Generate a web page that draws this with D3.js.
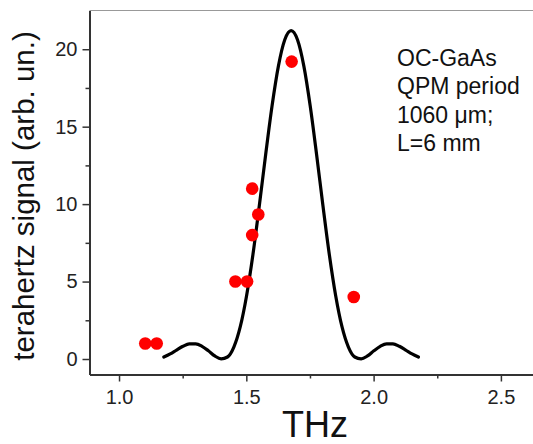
<!DOCTYPE html>
<html>
<head>
<meta charset="utf-8">
<script src="https://cdn.jsdelivr.net/npm/d3@7"></script>
<style>
  body { margin: 0; background: #fff; }
  #chart svg { display: block; font-family: "Liberation Sans", Arial, sans-serif; }
</style>
</head>
<body>
<div id="chart"></div>
<script>
// measured points (THz, arb. un.)
const pointFreq = [1.103, 1.148, 1.457, 1.503, 1.523, 1.523, 1.547, 1.678, 1.922];
const pointSignal = [1.0, 1.0, 5.0, 5.0, 8.0, 11.0, 9.33, 19.2, 4.0];

// calculated curve
const curveFreq = [1.176, 1.201, 1.226, 1.251, 1.276, 1.301, 1.326, 1.351, 1.376, 1.401,
    1.426, 1.451, 1.476, 1.501, 1.526, 1.551, 1.576, 1.601, 1.626, 1.651, 1.676,
    1.701, 1.726, 1.751, 1.776, 1.801, 1.826, 1.851, 1.876, 1.901, 1.926,
    1.951, 1.976, 2.001, 2.026, 2.051, 2.076, 2.101, 2.126, 2.151, 2.176];
const curveSignal = [0.13, 0.33, 0.58, 0.82, 0.98, 0.98, 0.82, 0.53, 0.20, 0.01,
    0.13, 0.77, 2.07, 4.09, 6.75, 9.89, 13.20, 16.33, 18.91, 20.61, 21.20,
    20.61, 18.91, 16.33, 13.20, 9.89, 6.75, 4.09, 2.07, 0.77, 0.13,
    0.01, 0.20, 0.53, 0.82, 0.98, 0.98, 0.82, 0.58, 0.33, 0.13];

const xTicks = [1.0, 1.5, 2.0, 2.5];
const xMinorTicks = [1.25, 1.75, 2.25];
const yTicks = [0, 5, 10, 15, 20];
const yMinorTicks = [2.5, 7.5, 12.5, 17.5];
const noteLines = ["OC-GaAs", "QPM period", "1060 \u03bcm;", "L=6 mm"];

const width = 533, height = 444;
const margin = { left: 89.5, top: 10.5, bottom: 374.5, right: 534 };

const svg = d3.select("#chart").append("svg")
    .attr("width", width)
    .attr("height", height);

const xScale = d3.scaleLinear().domain([0.884, 2.63]).range([margin.left, margin.right]);
const yScale = d3.scaleLinear().domain([-1, 22.5]).range([margin.bottom, margin.top]);

// top frame line
svg.append("line")
    .attr("x1", margin.left).attr("x2", width)
    .attr("y1", margin.top).attr("y2", margin.top)
    .attr("stroke", "#999")
    .attr("stroke-width", 1);

const styleAxis = g => {
    g.select(".domain").attr("stroke", "#333").attr("stroke-width", 2);
    g.selectAll(".tick line").attr("stroke", "#333").attr("stroke-width", 1.5);
    g.selectAll("text").attr("fill", "#222").style("font-size", "20px");
};

svg.append("g")
    .attr("transform", `translate(0,${margin.bottom})`)
    .call(d3.axisBottom(xScale).tickValues(xMinorTicks).tickSize(4).tickFormat("").tickSizeOuter(0))
    .call(g => g.select(".domain").remove())
    .call(styleAxis);

svg.append("g")
    .attr("transform", `translate(0,${margin.bottom})`)
    .call(d3.axisBottom(xScale).tickValues(xTicks).tickSize(7).tickPadding(8)
        .tickFormat(d3.format(".1f")).tickSizeOuter(0))
    .call(styleAxis);

svg.append("g")
    .attr("transform", `translate(${margin.left},0)`)
    .call(d3.axisLeft(yScale).tickValues(yMinorTicks).tickSize(4).tickFormat("").tickSizeOuter(0))
    .call(g => g.select(".domain").remove())
    .call(styleAxis);

svg.append("g")
    .attr("transform", `translate(${margin.left},0)`)
    .call(d3.axisLeft(yScale).tickValues(yTicks).tickSize(7).tickPadding(5).tickSizeOuter(0))
    .call(styleAxis);

// axis titles
svg.append("text")
    .attr("x", 315)
    .attr("y", 437)
    .attr("text-anchor", "middle")
    .style("font-size", "36px")
    .attr("fill", "#111")
    .text("THz");

svg.append("text")
    .attr("transform", "rotate(-90)")
    .attr("x", -196)
    .attr("y", 34)
    .attr("text-anchor", "middle")
    .style("font-size", "29.5px")
    .attr("fill", "#111")
    .text("terahertz signal (arb. un.)");

// curve
const curve = curveFreq.map((f, i) => [f, curveSignal[i]]);
svg.append("path")
    .datum(curve)
    .attr("fill", "none")
    .attr("stroke", "#000")
    .attr("stroke-width", 3.2)
    .attr("stroke-linecap", "round")
    .attr("d", d3.line()
        .x(d => xScale(d[0]))
        .y(d => yScale(d[1]))
        .curve(d3.curveMonotoneX));

// points
svg.selectAll("circle")
    .data(pointFreq.map((f, i) => [f, pointSignal[i]]))
    .enter()
    .append("circle")
    .attr("cx", d => xScale(d[0]))
    .attr("cy", d => yScale(d[1]))
    .attr("r", 6.3)
    .attr("fill", "#ff0000");

// note
svg.append("g")
    .selectAll("text")
    .data(noteLines)
    .enter()
    .append("text")
    .attr("x", 397)
    .attr("y", (d, i) => 66 + i * 28.4)
    .style("font-size", "23px")
    .attr("fill", "#111")
    .text(d => d);
</script>
</body>
</html>
